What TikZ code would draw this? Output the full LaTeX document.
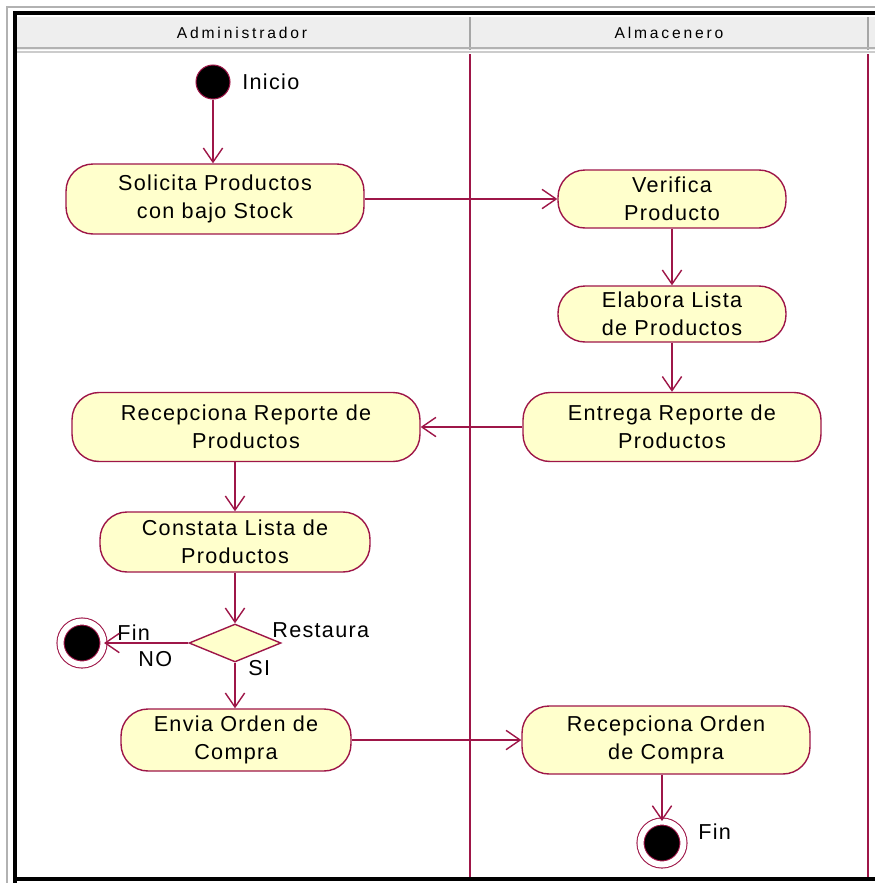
\documentclass[tikz,border=0pt]{standalone}
\usepackage{fontspec}
\setmainfont{Liberation Sans}
\newfontfamily\fuente{Liberation Sans}[LetterSpace=6]
\newfontfamily\fuentecab{Liberation Sans}[LetterSpace=18]
\usetikzlibrary{shapes.geometric,arrows.meta}

\definecolor{linea}{RGB}{158,22,72}
\definecolor{relleno}{RGB}{255,255,204}
\definecolor{cabecera}{RGB}{238,238,238}

\begin{document}
\begin{tikzpicture}[x=0.02cm,y=-0.02cm]
	\tikzstyle{actividad}=[rectangle, rounded corners=0.54cm, draw=linea, fill=relleno, line width=0.8pt, align=center, inner sep=2pt, font=\fuente\fontsize{12.3}{16}\selectfont]
	\tikzstyle{decision}=[diamond, draw=linea, fill=relleno, line width=0.8pt, minimum width=1.84cm, minimum height=0.76cm, inner sep=0pt]
	\tikzstyle{inicial}=[circle, draw=linea, fill=black, line width=0.6pt, minimum size=0.68cm, inner sep=0pt]
	\tikzstyle{final}=[circle, draw=linea, fill=black, line width=0.6pt, double=white, double distance=0.12cm, minimum size=0.86cm, inner sep=0pt]
	\tikzstyle{etiqueta}=[anchor=west, inner sep=0pt, font=\fuente\fontsize{12.3}{14}\selectfont]
	\tikzstyle{carril}=[font=\fuentecab\fontsize{8.9}{10}\selectfont]
	\tikzstyle{flecha}=[draw=linea, line width=0.8pt, -{Straight Barb[length=8pt,width=11pt,line width=0.8pt]}]
	\useasboundingbox (0,0) rectangle (875,883);
	\clip (0,0) rectangle (875,883);
	% marco y carriles
	\draw [gray!60, line width=0.6pt] (7,900) -- (7,7) -- (900,7);
	\fill [cabecera] (17,17) rectangle (900,50);
	\draw [gray!70, line width=0.8pt] (470,17) -- (470,50);
	\draw [gray!70, line width=0.8pt] (868,17) -- (868,50);
	\draw [gray!60, line width=1pt] (17,48) -- (900,48);
	\draw [gray!40, line width=1pt] (17,52) -- (900,52);
	\node [carril] (carril1) at (242,33) {Administrador};
	\node [carril] (carril2) at (669,33) {Almacenero};
	\draw [linea, line width=0.7pt] (470,54) -- (470,880);
	\draw [linea, line width=0.7pt] (868,54) -- (868,880);
	\draw [black, line width=2.4pt] (15,900) -- (15,13) -- (900,13);
	\draw [black, line width=2.4pt] (15,879) -- (900,879);
	% nodos
	\node [inicial] (inicio) at (213,82) {};
	\node [etiqueta] (lblinicio) at (242,82) {Inicio};
	\node [actividad, minimum width=5.96cm, minimum height=1.4cm] (solicita) at (215,199) {Solicita Productos\\con bajo Stock};
	\node [actividad, minimum width=4.56cm, minimum height=1.16cm] (verifica) at (672,199) {Verifica\\Producto};
	\node [actividad, minimum width=4.56cm, minimum height=1.12cm] (elabora) at (672,314) {Elabora Lista\\de Productos};
	\node [actividad, minimum width=5.96cm, minimum height=1.38cm] (entrega) at (672,427) {Entrega Reporte de\\Productos};
	\node [actividad, minimum width=6.96cm, minimum height=1.38cm] (recepreporte) at (246,427) {Recepciona Reporte de\\Productos};
	\node [actividad, minimum width=5.4cm, minimum height=1.2cm] (constata) at (235,542) {Constata Lista de\\Productos};
	\node [decision] (restaura) at (235,643) {};
	\node [etiqueta] (lblrestaura) at (272,630) {Restaura};
	\node [etiqueta] (lblsi) at (248,668) {SI};
	\node [etiqueta] (lblno) at (138,659) {NO};
	\node [final] (finizq) at (82,643) {};
	\node [etiqueta] (lblfinizq) at (117,633) {Fin};
	\node [actividad, minimum width=4.6cm, minimum height=1.24cm] (envia) at (236,740) {Envia Orden de\\Compra};
	\node [actividad, minimum width=5.76cm, minimum height=1.36cm] (recepcompra) at (666,740) {Recepciona Orden\\de Compra};
	\node [final] (finder) at (662,843) {};
	\node [etiqueta] (lblfinder) at (698,832) {Fin};
	% transiciones
	\draw [flecha] (inicio) -- (inicio |- solicita.north);
	\draw [flecha] (solicita) -- (verifica);
	\draw [flecha] (verifica) -- (elabora);
	\draw [flecha] (elabora) -- (entrega);
	\draw [flecha] (entrega) -- (recepreporte);
	\draw [flecha] (constata |- recepreporte.south) -- (constata);
	\draw [flecha] (constata) -- (restaura);
	\draw [flecha] (restaura) -- (finizq);
	\draw [flecha] (restaura) -- (restaura |- envia.north);
	\draw [flecha] (envia) -- (recepcompra);
	\draw [flecha] (finder |- recepcompra.south) -- (finder);
\end{tikzpicture}
\end{document}
